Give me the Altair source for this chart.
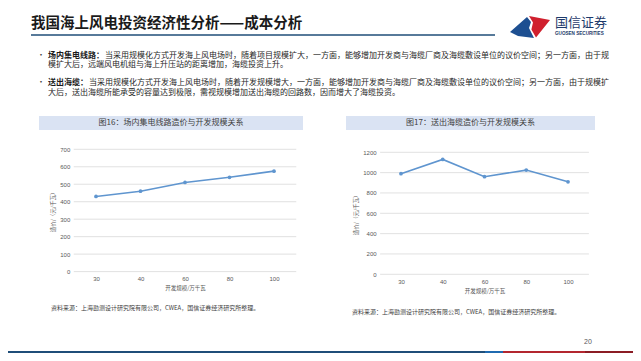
import altair as alt
import pandas as pd

# ---------------- data ----------------
scale_mw = ["30", "40", "60", "80", "100"]            # 开发规模/万千瓦
cost_inner = [430, 460, 510, 540, 575]                # 场内集电线路造价（元/千瓦）
cost_export = [990, 1130, 960, 1025, 910]             # 送出海缆造价（元/千瓦）
ticks_inner = [0, 100, 200, 300, 400, 500, 600, 700]
ticks_export = [0, 200, 400, 600, 800, 1000, 1200]

slide_title = "我国海上风电投资经济性分析——成本分析"
logo_cn = "国信证券"
logo_en = "GUOSEN SECURITIES"
bullet1_head = "场内集电线路："
bullet1_line1 = "当采用规模化方式开发海上风电场时，随着项目规模扩大，一方面，能够增加开发商与海缆厂商及海缆敷设单位的议价空间；另一方面，由于规"
bullet1_line2 = "模扩大后，远端风电机组与海上升压站的距离增加，海缆投资上升。"
bullet2_head = "送出海缆："
bullet2_line1 = "当采用规模化方式开发海上风电场时，随着开发规模增大，一方面，能够增加开发商与海缆厂商及海缆敷设单位的议价空间；另一方面，由于规模扩"
bullet2_line2 = "大后，送出海缆所能承受的容量达到极限，需视规模增加送出海缆的回路数，因而增大了海缆投资。"
fig16_title = "图16：场内集电线路造价与开发规模关系"
fig17_title = "图17：送出海缆造价与开发规模关系"
x_title = "开发规模/万千瓦"
y_title = "造价/（元/千瓦）"
source_text = "资料来源：上海勘测设计研究院有限公司，CWEA，国信证券经济研究所整理。"
page_no = "20"

# ---------------- layout / style ----------------
W, H = 625, 345
M = 8  # page margin
CJK = "Noto Sans CJK SC"
LAT = "Liberation Sans, Noto Sans CJK SC"
LINE = "#5f95cf"
GRID = "#d9d9d9"
NAVY = "#1f4e79"


def text_at(s, x, y, size, color="#262626", weight="normal", align="left", font=CJK):
    return alt.Chart(pd.DataFrame({"t": [s]})).mark_text(
        align=align, baseline="middle", fontSize=size, fontWeight=weight,
        color=color, font=font
    ).encode(text="t:N", x=alt.value(x - M), y=alt.value(y - M))


def rect_at(x1, x2, y1, y2, color):
    return alt.Chart(pd.DataFrame({"a": [0]})).mark_rect(color=color).encode(
        x=alt.value(x1 - M), x2=alt.value(x2 - M), y=alt.value(y1 - M), y2=alt.value(y2 - M))


def rule_at(x1, x2, y, color, width):
    return alt.Chart(pd.DataFrame({"a": [0]})).mark_rule(color=color, strokeWidth=width).encode(
        x=alt.value(x1 - M), x2=alt.value(x2 - M), y=alt.value(y - M))


def shape_at(path, x, y, size, color):
    return alt.Chart(pd.DataFrame({"a": [0]})).mark_point(
        shape=path, filled=True, size=size, color=color, opacity=1, strokeWidth=0
    ).encode(x=alt.value(x - M), y=alt.value(y - M))


def panel(values, ticks, x0, x1, y0, y1, ymax):
    df = pd.DataFrame({"scale": scale_mw, "cost": values})
    xs = alt.Scale(type="point", domain=scale_mw, range=[x0 - M, x1 - M], padding=0.5)
    ys = alt.Scale(domain=[0, ymax], range=[y0 - M, y1 - M], nice=False, zero=True)
    yaxis = alt.Axis(orient="left", offset=-(x0 - M), values=ticks, format="d", grid=False,
                     domain=False, ticks=False, tickSize=0, labelPadding=4, labelFontSize=6,
                     labelColor="#595959", labelFont=LAT, title=y_title, titleFontSize=5.5,
                     titleColor="#595959", titleFont=CJK, titleFontWeight="normal",
                     titlePadding=4)
    xaxis = alt.Axis(orient="bottom", offset=(y0 - M) - H, grid=False, domain=False,
                     ticks=False, tickSize=0, labelPadding=4, labelFontSize=6,
                     labelColor="#595959", labelFont=LAT, labelAngle=0, title=x_title,
                     titleFontSize=5.5, titleColor="#595959", titleFont=CJK,
                     titleFontWeight="normal", titlePadding=4)
    grid = alt.Chart(pd.DataFrame({"cost": ticks})).mark_rule(color=GRID, strokeWidth=0.8).encode(
        y=alt.Y("cost:Q", scale=ys, axis=yaxis), x=alt.value(x0 - M), x2=alt.value(x1 - M))
    line = alt.Chart(df).mark_line(
        color=LINE, strokeWidth=1.6,
        point=alt.OverlayMarkDef(filled=True, size=14, color=LINE)
    ).encode(
        x=alt.X("scale:O", scale=xs, sort=scale_mw, axis=xaxis),
        y=alt.Y("cost:Q", scale=ys, axis=yaxis))
    return alt.layer(grid, line)


blue_path = "M -1 0.275 L -0.15 -0.475 L 0.05 -0.225 L -0.05 0.075 L 0.2 0.575 L -0.6 0.475 Z"
red_path = "M -0.05 -0.525 L 1 -0.325 L 0.3 0.55 L 0.07 0.15 L 0.15 -0.2 Z"

layers = [
    # header
    text_at(slide_title, 31, 24, 14.5, color="#1a1a1a", weight="bold"),
    rule_at(31, 495, 35, NAVY, 1.6),
    shape_at(blue_path, 530, 26.5, 1600, "#1d4f91"),
    shape_at(red_path, 530, 26.5, 1600, "#d0202e"),
    text_at(logo_cn, 555, 23, 13, color="#1e3a6b"),
    text_at(logo_en, 555, 34.3, 4.6, color="#1e3a6b", weight="bold", font=LAT),
    # bullets
    text_at("•", 41, 55.5, 8, color="#404040", align="center"),
    text_at(bullet1_head, 48, 55.5, 8, color="#1a1a1a", weight="bold"),
    text_at(bullet1_line1, 105, 55.5, 8, color="#262626"),
    text_at(bullet1_line2, 48, 65.3, 8, color="#262626"),
    text_at("•", 41, 83.2, 8, color="#404040", align="center"),
    text_at(bullet2_head, 48, 83.2, 8, color="#1a1a1a", weight="bold"),
    text_at(bullet2_line1, 89, 83.2, 8, color="#262626"),
    text_at(bullet2_line2, 48, 93.0, 8, color="#262626"),
    # panel headers
    rect_at(39, 303, 116, 130, "#dae3f3"),
    rect_at(346, 595, 116, 130, "#dae3f3"),
    text_at(fig16_title, 171, 123, 8, color="#404040", align="center"),
    text_at(fig17_title, 470.5, 123, 8, color="#404040", align="center"),
    # plots
    panel(cost_inner, ticks_inner, 73.75, 296.25, 271.6, 149.3, 700),
    panel(cost_export, ticks_export, 380.1, 588.9, 274.3, 152.3, 1200),
    # sources
    text_at(source_text, 51, 308, 6, color="#404040"),
    text_at(source_text, 352, 311.5, 6, color="#404040"),
    # footer
    text_at(page_no, 588, 341.7, 7, color="#595959", align="center", font=LAT),
    rect_at(8, 485, 351, 361, NAVY),
    rect_at(485, 503, 351, 361, "#1f6ab0"),
    rect_at(503, 585, 351, 361, "#b3262f"),
    rect_at(585, 641, 351, 361, "#8b1c24"),
]

chart = alt.layer(*layers).resolve_scale(
    x="independent", y="independent"
).properties(
    width=W, height=H, padding=0, autosize=alt.AutoSizeParams(type="none")
).configure_view(stroke="transparent")

chart.save("out.html", embed_options={"renderer": "svg", "actions": False})
